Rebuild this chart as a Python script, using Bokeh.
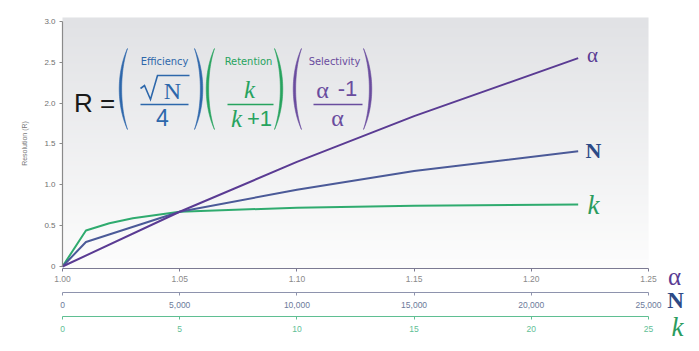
import numpy as np
from bokeh.plotting import figure
from bokeh.models import Range1d, LinearAxis, FixedTicker, Label
from bokeh.embed import file_html
from bokeh.resources import INLINE

# ---------------- data ----------------
alpha_vals = [1.00, 1.05, 1.10, 1.15, 1.22]
R_alpha = [0.0, 0.67, 1.28, 1.84, 2.55]

N_vals = [0, 1000, 5000, 10000, 15000, 22000]
R_N = [0.0, 0.30, 0.67, 0.94, 1.17, 1.41]

k_vals = [0, 1, 2, 3, 5, 10, 15, 22]
R_k = [0.0, 0.44, 0.53, 0.59, 0.67, 0.72, 0.745, 0.76]

y_ticks = [0, 0.5, 1.0, 1.5, 2.0, 2.5, 3.0]
y_tick_labels = ["0", "0.5", "1.0", "1.5", "2.0", "2.5", "3.0"]
alpha_ticks = [1.00, 1.05, 1.10, 1.15, 1.20, 1.25]
alpha_tick_labels = ["1.00", "1.05", "1.10", "1.15", "1.20", "1.25"]
N_ticks = [0, 5000, 10000, 15000, 20000, 25000]
N_tick_labels = ["0", "5,000", "10,000", "15,000", "20,000", "25,000"]
k_ticks = [0, 5, 10, 15, 20, 25]
k_tick_labels = ["0", "5", "10", "15", "20", "25"]

# ---------------- colours ----------------
C_ALPHA = "#5a3b93"
C_N = "#4b5a98"
C_K = "#2fab6f"
F_BLUE = "#2d67ab"
F_GREEN = "#27a35e"
F_PURPLE = "#6a4c9e"

W, H = 699, 351
PX_PER_ALPHA = 586 / 0.25      # pixels per alpha unit
PX_PER_R = 81.7                # pixels per resolution unit
X_ONE_PX = 62                  # pixel column of alpha = 1.00
Y_ZERO_PX = 266                # pixel row of R = 0

X0 = 1.0 - X_ONE_PX / PX_PER_ALPHA
X1 = 1.0 + (W - X_ONE_PX) / PX_PER_ALPHA
Y1 = Y_ZERO_PX / PX_PER_R
Y0 = (Y_ZERO_PX - H) / PX_PER_R

p = figure(width=W, height=H, output_backend="svg", toolbar_location=None,
           x_range=Range1d(X0, X1), y_range=Range1d(Y0, Y1),
           min_border_left=0, min_border_right=0, min_border_top=0,
           min_border_bottom=0)
p.outline_line_color = None
p.grid.visible = False
p.background_fill_color = "white"
p.border_fill_color = "white"
# N and k scales share the alpha pixel scale (1.05 <-> 5,000 <-> 5)
p.extra_x_ranges = {"N": Range1d((X0 - 1) * 1e5, (X1 - 1) * 1e5),
                    "k": Range1d((X0 - 1) * 100, (X1 - 1) * 100)}


def dx(px):
    return 1.0 + (px - X_ONE_PX) / PX_PER_ALPHA


def dy(py):
    return (Y_ZERO_PX - py) / PX_PER_R


# background gradient (decoration)
n = 200
img = np.empty((n, 2), dtype=np.uint32)
view = img.view(dtype=np.uint8).reshape((n, 2, 4))
top = np.array([225, 226, 229])
bot = np.array([253, 253, 253])
for i in range(n):
    t = i / (n - 1)
    c = bot + (top - bot) * t
    view[i, :, 0] = int(c[0])
    view[i, :, 1] = int(c[1])
    view[i, :, 2] = int(c[2])
    view[i, :, 3] = 255
p.image_rgba(image=[img], x=1.0, y=dy(268), dw=0.25, dh=dy(17) - dy(268))

# ---------------- series ----------------
p.line(k_vals, R_k, x_range_name="k", line_color=C_K, line_width=2)
p.line(N_vals, R_N, x_range_name="N", line_color=C_N, line_width=2)
p.line(alpha_vals, R_alpha, line_color=C_ALPHA, line_width=2)


# ---------------- axes ----------------
def style_axis(ax, line_c, label_c, ticks, labels, standoff=4):
    ax.ticker = FixedTicker(ticks=ticks)
    ax.major_label_overrides = dict(zip(ticks, labels))
    ax.axis_line_color = line_c
    ax.axis_line_width = 1.2
    ax.major_tick_line_color = line_c
    ax.major_tick_out = 3
    ax.major_tick_in = 0
    ax.minor_tick_line_color = None
    ax.major_label_text_font_size = "8.5px"
    ax.major_label_text_font = "Liberation Sans"
    ax.major_label_text_color = label_c
    ax.major_label_standoff = standoff


xa = p.xaxis[0]
style_axis(xa, "#7c7a92", "#8a8a8a", alpha_ticks, alpha_tick_labels)
xa.bounds = (alpha_ticks[0], alpha_ticks[-1])
xa.fixed_location = dy(268)

ya = p.yaxis[0]
style_axis(ya, "#8a8a8a", "#6f6f6f", y_ticks, y_tick_labels)
ya.major_label_text_font_size = "8px"
ya.bounds = (y_ticks[0], y_ticks[-1])
ya.fixed_location = 1.0

axN = LinearAxis(x_range_name="N")
style_axis(axN, "#8e93ad", "#6c7a9a", N_ticks, N_tick_labels, standoff=6)
axN.bounds = (N_ticks[0], N_ticks[-1])
axN.fixed_location = dy(292)
p.add_layout(axN, "below")

axK = LinearAxis(x_range_name="k")
style_axis(axK, "#5fbf92", "#62c096", k_ticks, k_tick_labels, standoff=6)
axK.bounds = (k_ticks[0], k_ticks[-1])
axK.fixed_location = dy(316)
p.add_layout(axK, "below")


# ---------------- annotations ----------------
def lab(px, py, text, size, color, font="Liberation Sans", style="normal",
        angle=0.0):
    p.add_layout(Label(x=dx(px), y=dy(py), text=text, text_align="center",
                       text_baseline="middle", text_font_size=f"{size}px",
                       text_color=color, text_font=font, text_font_style=style,
                       angle=angle))


SERIF = "Liberation Serif"
NARROW = "Liberation Sans Narrow, DejaVu Sans Condensed, Roboto, sans-serif"

# y-axis title
lab(24, 143, "Resolution (R)", 7, "#777777", angle=np.pi / 2)

# series end labels
lab(592, 54, "α", 21, C_ALPHA, SERIF)
lab(593, 150, "N", 22, "#2c4a86", SERIF, "bold")
lab(593, 204, "k", 27, "#2a9c5e", SERIF, "italic")

# axis name labels at right
lab(674, 276, "α", 25, C_ALPHA, SERIF)
lab(675, 300, "N", 23, "#2c4a86", SERIF, "bold")
lab(677, 326, "k", 27, "#2a9c5e", SERIF, "italic")

# formula
lab(94, 102, "R =", 26, "#1a1a1a")
lab(164, 61, "Efficiency", 11, F_BLUE, NARROW)
lab(248, 61, "Retention", 11, F_GREEN, NARROW)
lab(334, 61, "Selectivity", 11, F_PURPLE, NARROW)

lab(172, 90, "N", 24, F_BLUE, SERIF)
lab(162, 117, "4", 23, F_BLUE)

lab(249, 89, "k", 25, F_GREEN, SERIF, "italic")
lab(236, 118, "k", 25, F_GREEN, SERIF, "italic")
lab(259, 118, "+1", 22, F_GREEN)

lab(322, 89, "α", 24, F_PURPLE, SERIF)
lab(347, 88, "-1", 22, F_PURPLE)
lab(337, 117, "α", 24, F_PURPLE, SERIF)

# radical sign
rx = [140, 144, 150, 157, 189]
ry = [88, 85, 99, 75, 75]
p.line([dx(v) for v in rx], [dy(v) for v in ry], line_color=F_BLUE,
       line_width=1.6, line_join="miter")

# fraction bars
segs = [(140, 188, 104, F_BLUE), (227, 273, 104, F_GREEN),
        (313, 362, 104, F_PURPLE)]
for a, b, yy, c in segs:
    p.segment(x0=[dx(a)], y0=[dy(yy)], x1=[dx(b)], y1=[dy(yy)],
              line_color=c, line_width=1.5)

# parentheses as crescent shapes
tt = np.linspace(0, 1, 40)


def cubic(a, b, c, d):
    return ((1 - tt) ** 3) * a + 3 * ((1 - tt) ** 2) * tt * b + \
        3 * (1 - tt) * tt ** 2 * c + tt ** 3 * d


parens = [(127, 116, F_BLUE), (194, 205, F_BLUE),
          (214, 203, F_GREEN), (274, 285, F_GREEN),
          (301, 290, F_PURPLE), (363, 374, F_PURPLE)]
for xe, xc, c in parens:
    d = 3.2 if xe > xc else -3.2
    ys = cubic(48, 72, 105, 129)
    outer = cubic(xe, xc, xc, xe)
    inner = cubic(xe, xc + d, xc + d, xe)
    px = np.concatenate([outer, inner[::-1]])
    py = np.concatenate([ys, ys[::-1]])
    p.patch([dx(v) for v in px], [dy(v) for v in py], fill_color=c,
            line_color=c, line_width=0.6)

open("out.html", "w").write(file_html(p, INLINE))
